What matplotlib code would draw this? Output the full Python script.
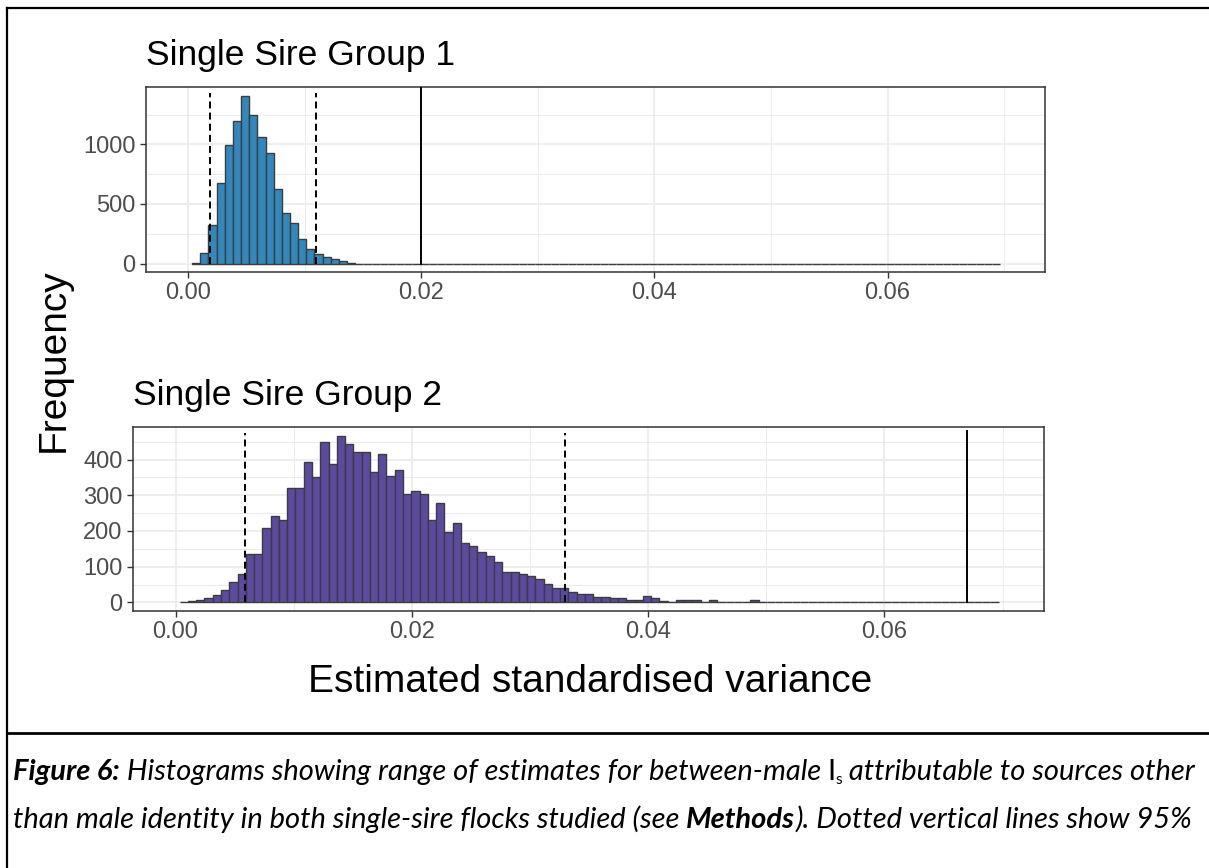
import matplotlib
matplotlib.use("Agg")
import matplotlib.pyplot as plt
import numpy as np

plt.rcParams['font.family'] = ['Liberation Sans', 'DejaVu Sans']
plt.rcParams['lines.scale_dashes'] = False

W, H = 1209, 868

# histogram bins: width 0.0007, first bin centred on 0.0007
bin_width = 0.0007
n_bins = 99

group1_counts = [5, 85, 326, 676, 992, 1196, 1408, 1246, 1058, 927, 625, 422,
                 340, 205, 119, 82, 55, 36, 21, 8]
group2_counts = [1, 3, 7, 13, 22, 35, 58, 79, 135, 135, 207, 241, 230, 321, 321,
                 393, 352, 449, 388, 466, 443, 420, 420, 364, 415, 354, 371, 304,
                 313, 304, 231, 277, 197, 221, 165, 158, 141, 130, 114, 86, 86,
                 80, 73, 66, 51, 40, 40, 29, 24, 24, 16, 16, 11, 11, 7, 7, 18,
                 11, 5, 2, 7, 7, 7, 2, 7, 1, 1, 0, 1, 7]

group1_ci = [0.0019, 0.011]
group1_obs = 0.020
group2_ci = [0.0059, 0.033]
group2_obs = 0.067

titles = ["Single Sire Group 1", "Single Sire Group 2"]
fills = ["#3288BD", "#5B4A9F"]
x_ticks = [0.00, 0.02, 0.04, 0.06]
x_tick_labels = ["0.00", "0.02", "0.04", "0.06"]
y_ticks_1 = [0, 500, 1000]
y_ticks_2 = [0, 100, 200, 300, 400]

fig = plt.figure(figsize=(W / 100, H / 100), dpi=100)


def px_axes(left, top, right, bottom):
    return fig.add_axes([left / W, 1 - bottom / H, (right - left) / W, (bottom - top) / H])


def pad_counts(counts):
    return list(counts) + [0] * (n_bins - len(counts))


def style_axes(ax, yticks, yminor, ylim):
    ax.set_xlim(-0.0036, 0.0735)
    ax.set_ylim(*ylim)
    ax.set_xticks(x_ticks)
    ax.set_xticklabels(x_tick_labels)
    ax.set_xticks([0.01, 0.03, 0.05, 0.07], minor=True)
    ax.set_yticks(yticks)
    ax.set_yticks(yminor, minor=True)
    ax.grid(which='major', color='#EBEBEB', lw=1.2, zorder=0)
    ax.grid(which='minor', color='#EBEBEB', lw=0.7, zorder=0)
    ax.set_axisbelow(True)
    for s in ax.spines.values():
        s.set_color('#333333')
        s.set_linewidth(1.1)
    ax.tick_params(which='major', length=4.5, width=1, color='#333333',
                   labelcolor='#4D4D4D', labelsize=17, pad=3)
    ax.tick_params(which='minor', length=0)


def draw_hist(ax, counts, fill, ci, obs, ci_top, obs_top):
    heights = pad_counts(counts)
    centers = bin_width * (np.arange(n_bins) + 1)
    ax.bar(centers, heights, width=bin_width, color=fill, edgecolor='#3C3C3C',
           linewidth=1.0, zorder=2)
    for x in ci:
        ax.plot([x, x], [0, ci_top], color='black', lw=1.4, dashes=(5, 3), zorder=3)
    ax.plot([obs, obs], [0, obs_top], color='black', lw=1.4, zorder=3)


ax1 = px_axes(146, 87, 1045, 272)
style_axes(ax1, y_ticks_1, [250, 750, 1250], (-71, 1481))
draw_hist(ax1, group1_counts, fills[0], group1_ci, group1_obs, 1430, 1481)

ax2 = px_axes(133, 427, 1044, 611)
style_axes(ax2, y_ticks_2, [50, 150, 250, 350, 450], (-24, 491))
draw_hist(ax2, group2_counts, fills[1], group2_ci, group2_obs, 474, 479)

fig.text(146 / W, 1 - 65 / H, titles[0], fontsize=25.5, ha='left', va='baseline')
fig.text(133 / W, 1 - 405 / H, titles[1], fontsize=25.5, ha='left', va='baseline')
fig.text(54 / W, 1 - 360 / H, "Frequency", fontsize=28, rotation=90,
         ha='center', va='center')
fig.text(590 / W, 1 - 682 / H, "Estimated standardised variance", fontsize=28,
         ha='center', va='center')

# document table borders round the figure and its caption
for xs, ys, lw in [([7, 7], [8, H], 1.6), ([7, W], [8, 8], 1.6), ([7, W], [733, 733], 2.0)]:
    fig.add_artist(plt.Line2D([x / W for x in xs], [1 - y / H for y in ys],
                              color='black', lw=lw))

cap_size = 21
cap_it = dict(family=['Lato', 'DejaVu Sans'], style='italic', fontsize=cap_size, color='black')
cap_bi = dict(cap_it, weight='bold')
cap_up = dict(family=['Lato', 'DejaVu Sans'], fontsize=cap_size, color='black')
cap_sub = dict(family=['Lato', 'DejaVu Sans'], fontsize=11, color='black')

caption_lines = [
    [("Figure 6:", cap_bi, 0), (" Histograms showing range of estimates for between-male ", cap_it, 0),
     ("I", cap_up, 0), ("s", cap_sub, -4), (" attributable to sources other", cap_it, 0)],
    [("than male identity in both single-sire flocks studied (see ", cap_it, 0),
     ("Methods", cap_bi, 0), ("). Dotted vertical lines show 95%", cap_it, 0)],
]
renderer = fig.canvas.get_renderer()
for line, base in zip(caption_lines, [780, 828]):
    x = 13
    for text, st, dy in line:
        t = fig.text(x / W, 1 - (base - dy) / H, text, ha='left', va='baseline', **st)
        x += t.get_window_extent(renderer).width

fig.savefig("out.png", dpi=100)
